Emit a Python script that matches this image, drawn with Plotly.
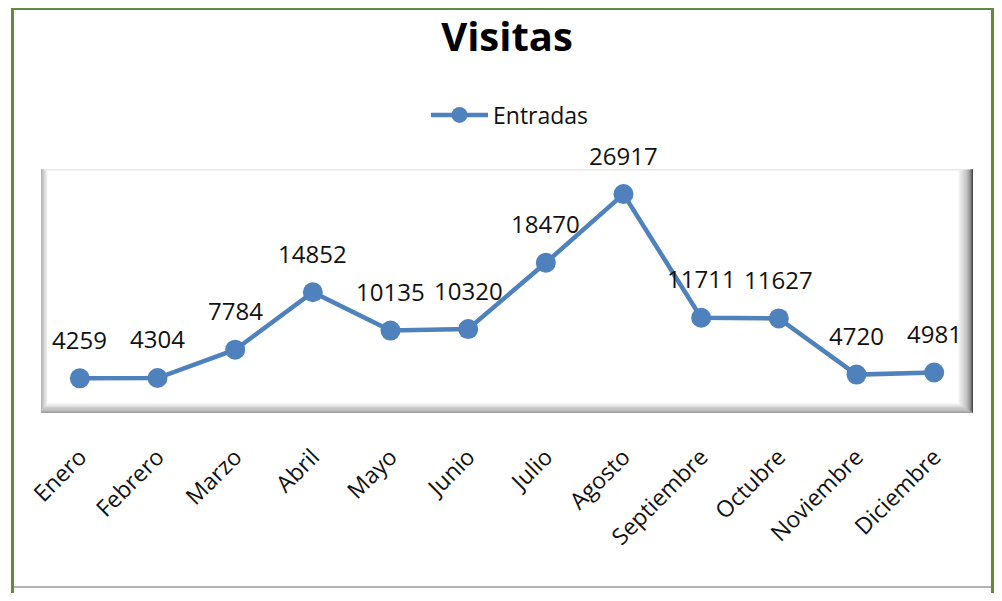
import plotly.graph_objects as go

meses = ["Enero", "Febrero", "Marzo", "Abril", "Mayo", "Junio", "Julio",
         "Agosto", "Septiembre", "Octubre", "Noviembre", "Diciembre"]
entradas = [4259, 4304, 7784, 14852, 10135, 10320, 18470, 26917, 11711, 11627, 4720, 4981]

OFF = 8  # page body margin offset
W, H = 1002 - OFF, 601 - 2 * OFF
L, R, T, B = 41 - OFF, 973 - OFF, 169 - OFF, 413 - OFF  # plot area in px
FONT = "Open Sans"
BLUE = "#4F81BD"

def px_x(px):
    return (px - L) / (R - L)

def px_y(py):
    return (B - py) / (B - T)

def rx(px):  # reference px -> paper x
    return px_x(px - OFF)

def ry(py):
    return px_y(py - OFF)

fig = go.Figure()
fig.add_trace(go.Scatter(
    x=meses, y=entradas, mode="lines+markers", name="Entradas",
    line=dict(color=BLUE, width=4.5),
    marker=dict(color=BLUE, size=20),
))

for m, v in zip(meses, entradas):
    fig.add_annotation(x=m, y=v, text=str(v), showarrow=False, yshift=39,
                       font=dict(family=FONT, size=24, color="#111"))

shapes = []
# bevel frame around plot area (styling)
n = 14
widths = dict(l=7, r=15, b=10, t=2)
def shade(side, t):
    if side == "l":
        a, b = 150, 252
    elif side == "r":
        a, b = 45, 252
        t = t ** 0.6
    elif side == "b":
        a, b = 130, 250
    else:
        a, b = 215, 245
    c = int(a + (b - a) * t)
    return f"rgb({c},{c},{c})"

for k in range(n):
    t0, t1 = k / n, (k + 1) / n
    o = {s: widths[s] * t0 for s in widths}
    i = {s: widths[s] * t1 for s in widths}
    ox0, ox1, oy0, oy1 = L + o["l"], R - o["r"], T + o["t"], B - o["b"]
    ix0, ix1, iy0, iy1 = L + i["l"], R - i["r"], T + i["t"], B - i["b"]
    polys = {
        "l": [(ox0, oy0), (ix0, iy0), (ix0, iy1), (ox0, oy1)],
        "r": [(ox1, oy0), (ix1, iy0), (ix1, iy1), (ox1, oy1)],
        "t": [(ox0, oy0), (ox1, oy0), (ix1, iy0), (ix0, iy0)],
        "b": [(ox0, oy1), (ox1, oy1), (ix1, iy1), (ix0, iy1)],
    }
    for s in ["t", "l", "b", "r"]:
        pts = polys[s]
        path = "M " + " L ".join(f"{px_x(x):.5f},{px_y(y):.5f}" for x, y in pts) + " Z"
        col = shade(s, (k + 0.5) / n)
        shapes.append(dict(type="path", xref="paper", yref="paper", path=path,
                           fillcolor=col, line=dict(width=0), layer="below"))

# outer green frame (three visible sides) and bottom gray line
GREEN = "#638A3F"
RIGHT = 992.5
for (x0, y0, x1, y1) in [(12.5, 8.5, 12.5, 601), (11, 8.5, RIGHT + 1.5, 8.5),
                         (RIGHT, 8.5, RIGHT, 601)]:
    shapes.append(dict(type="line", xref="paper", yref="paper",
                       x0=rx(x0), x1=rx(x1), y0=ry(y0), y1=ry(y1),
                       line=dict(color=GREEN, width=3), layer="above"))
shapes.append(dict(type="line", xref="paper", yref="paper",
                   x0=rx(14), x1=rx(RIGHT - 1.5), y0=ry(587), y1=ry(587),
                   line=dict(color="#9a9a9a", width=1.5), layer="above"))

fig.update_layout(
    width=W, height=H,
    margin=dict(l=L, r=W - R, t=T, b=H - B),
    paper_bgcolor="white", plot_bgcolor="white",
    title=dict(text="<b>Visitas</b>", x=0.5, xanchor="center", xref="paper",
               y=1 - (37 - OFF) / H, yanchor="middle", yref="container",
               font=dict(family=FONT, size=40, color="#000")),
    showlegend=True,
    legend=dict(orientation="h", x=rx(510), xanchor="center",
                y=ry(115), yanchor="middle", itemwidth=57,
                font=dict(family=FONT, size=23, color="#111"),
                bgcolor="rgba(0,0,0,0)"),
    xaxis=dict(type="category", range=[-0.5, 11.5], showgrid=False, zeroline=False,
               showline=False, ticks="", tickangle=-45, ticklabelstandoff=25,
               tickfont=dict(family=FONT, size=23, color="#111")),
    yaxis=dict(range=[0, 30000], visible=False, showgrid=False, zeroline=False),
    shapes=shapes,
)

fig.write_html("out.html")
